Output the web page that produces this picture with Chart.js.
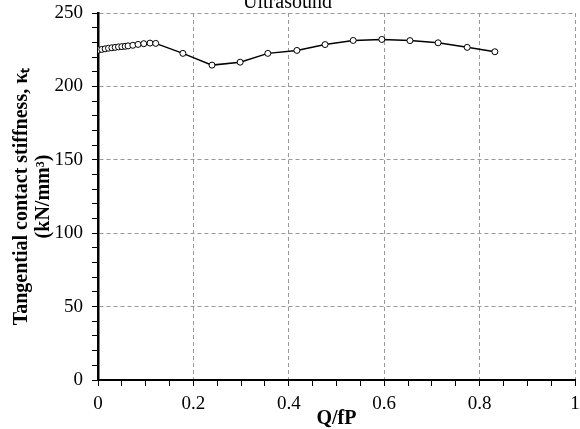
<!DOCTYPE html>
<html>
<head>
<meta charset="utf-8">
<script src="https://cdn.jsdelivr.net/npm/chart.js@4/dist/chart.umd.min.js"></script>
<style>
  html, body { margin: 0; padding: 0; background: #fff; }
  #wrap { width: 580px; height: 429px; }
</style>
</head>
<body>
<div id="wrap"><canvas id="stiffChart"></canvas></div>
<script>
// Q/fP values and tangential stiffness
const ratio = [0.001, 0.008, 0.015, 0.022, 0.029, 0.036, 0.043, 0.050, 0.057, 0.063,
               0.073, 0.084, 0.096, 0.109, 0.121, 0.178, 0.239, 0.298, 0.356, 0.417,
               0.476, 0.535, 0.595, 0.654, 0.713, 0.774, 0.832]
const stiffness = [224.8, 225.2, 225.6, 226.0, 226.3, 226.6, 226.9, 227.1, 227.3, 227.6,
                   228.0, 228.6, 229.1, 229.5, 229.3, 222.5, 214.5, 216.5, 222.5, 224.5,
                   228.5, 231.3, 232.0, 231.2, 229.7, 226.6, 223.6]
const xTicks = [0, 0.2, 0.4, 0.6, 0.8, 1]
const yTicks = [0, 50, 100, 150, 200, 250]

const points = ratio.map((r, i) => ({ x: r, y: stiffness[i] }))

const serif = "'Liberation Serif', 'Times New Roman', serif"
const isMajorX = v => xTicks.some(t => Math.abs(t - v) < 1e-6)
const isMajorY = v => yTicks.some(t => Math.abs(t - v) < 1e-6)

const ctx = document.getElementById('stiffChart')

new Chart(ctx, {
    type: 'line',
    data: {
        datasets: [{
            data: points,
            borderColor: '#000',
            borderWidth: 1.5,
            pointRadius: 3,
            pointBackgroundColor: '#fff',
            pointBorderColor: '#000',
            pointBorderWidth: 1,
            tension: 0
        }]
    },
    options: {
        responsive: true,
        maintainAspectRatio: false,
        animation: false,
        layout: { padding: { left: 0, right: 5, top: 0, bottom: 0 } },
        plugins: {
            legend: { display: false },
            tooltip: { enabled: false },
            title: {
                display: true,
                text: 'Ultrasound',
                color: '#000',
                font: { family: serif, size: 20, weight: 'normal', lineHeight: 1.2 },
                padding: { top: -9, bottom: -2 }
            }
        },
        scales: {
            x: {
                type: 'linear',
                min: 0,
                max: 1,
                afterFit: s => {
                    s.height = 49
                    s.paddingLeft = 0
                    s.paddingRight = 0
                },
                ticks: {
                    stepSize: 0.05,
                    autoSkip: false,
                    maxRotation: 0,
                    color: '#000',
                    padding: 7,
                    font: { family: serif, size: 19 },
                    callback: v => isMajorX(v) ? String(Math.round(v * 10) / 10) : ''
                },
                grid: {
                    color: c => isMajorX(c.tick.value) && c.tick.value > 0 ? '#999' : 'rgba(0,0,0,0)',
                    tickColor: '#000',
                    tickLength: 6
                },
                border: { display: true, color: '#000', width: 2, dash: [4, 3] },
                title: {
                    display: true,
                    text: 'Q/fP',
                    color: '#000',
                    font: { family: serif, size: 20, weight: 'bold', lineHeight: 1.2 },
                    padding: { top: 0, bottom: -2 }
                }
            },
            y: {
                min: 0,
                max: 250,
                afterFit: s => {
                    s.width = 98
                    s.paddingTop = 0
                    s.paddingBottom = 0
                },
                ticks: {
                    stepSize: 10,
                    autoSkip: false,
                    color: '#000',
                    padding: 9,
                    font: { family: serif, size: 19 },
                    callback: v => isMajorY(v) ? String(v) : ''
                },
                grid: {
                    color: c => isMajorY(c.tick.value) && c.tick.value > 0 ? '#999' : 'rgba(0,0,0,0)',
                    tickColor: '#000',
                    tickLength: 6
                },
                border: { display: true, color: '#000', width: 2.5, dash: [4, 3] },
                title: {
                    display: true,
                    text: ['Tangential contact stiffness, \u03BA\u209C', '(kN/mm\u00B3)'],
                    color: '#000',
                    font: { family: serif, size: 20, weight: 'bold', lineHeight: 1.1 },
                    padding: { top: 11, bottom: 0 }
                }
            }
        }
    }
})
</script>
</body>
</html>
